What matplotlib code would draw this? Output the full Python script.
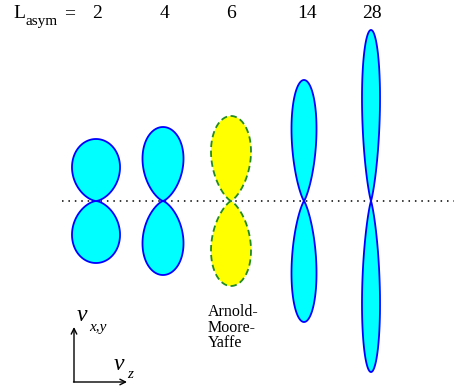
import numpy as np
import matplotlib.pyplot as plt

# asymmetry parameter of each distribution and its lobe size (pixels)
L_asym = [2, 4, 6, 14, 28]
lobe_height = [62, 74, 85, 121, 171]   # extent along v_x,y from the axis
lobe_width = [48, 41, 40, 25, 18]      # full width along v_z
is_amy = [False, False, True, False, False]   # Arnold-Moore-Yaffe case

# layout (pixels of the 454x390 image, y measured downwards)
lobe_x = [96, 163, 231, 304, 371]
label_x = [97, 165, 231, 307, 372]
axis_y = 201

W, H = 454, 390
fig = plt.figure(figsize=(W / 100, H / 100), dpi=100)
ax = fig.add_axes([0, 0, 1, 1])
ax.set_xlim(0, W)
ax.set_ylim(H, 0)
ax.axis('off')

serif = ['Liberation Serif', 'DejaVu Serif']

# horizontal dotted axis
ax.plot([62, W], [axis_y, axis_y], color='black', lw=1.1,
        linestyle=(0, (1, 3.2)), zorder=1)

theta = np.linspace(-np.pi / 2, np.pi / 2, 400)
for L, h, w, x0, amy in zip(L_asym, lobe_height, lobe_width, lobe_x, is_amy):
    r = np.cos(theta) ** L
    px = r * np.sin(theta)
    py = r * np.cos(theta)
    px = px / (2 * np.abs(px).max()) * w
    py = py / py.max() * h
    if amy:
        face, edge, ls = '#ffff00', '#228b22', (0, (3.5, 2))
    else:
        face, edge, ls = '#00ffff', '#0000ff', '-'
    for sign in (-1, 1):
        ax.fill(x0 + px, axis_y - sign * py, facecolor=face, edgecolor=edge,
                lw=1.3, linestyle=ls, zorder=2)

# labels on top
ax.text(13, 18, 'L', fontsize=14, family=serif, va='baseline', ha='left')
ax.text(26, 25, 'asym', fontsize=11, family=serif, va='baseline', ha='left')
ax.text(64, 18, '=', fontsize=14, family=serif, va='baseline', ha='left')
for L, x in zip(L_asym, label_x):
    ax.text(x, 18, str(L), fontsize=14, family=serif, va='baseline', ha='center')

ax.text(208, 347, 'Arnold-\nMoore-\nYaffe', fontsize=11.5, family=serif,
        va='baseline', ha='left', linespacing=0.95)

# velocity axes
ax.annotate('', xy=(74, 327), xytext=(74, 382),
            arrowprops=dict(arrowstyle='->', lw=1.0, color='black',
                            shrinkA=0, shrinkB=0))
ax.annotate('', xy=(127, 382), xytext=(73.5, 382),
            arrowprops=dict(arrowstyle='->', lw=1.0, color='black',
                            shrinkA=0, shrinkB=0))
ax.text(77, 321, 'v', fontsize=17, family=serif, style='italic', va='baseline')
ax.text(89, 331, 'x,y', fontsize=11, family=serif, style='italic', va='baseline')
ax.text(114, 370, 'v', fontsize=17, family=serif, style='italic', va='baseline')
ax.text(127, 378, 'z', fontsize=11, family=serif, style='italic', va='baseline')

plt.savefig('out.png', dpi=100)
